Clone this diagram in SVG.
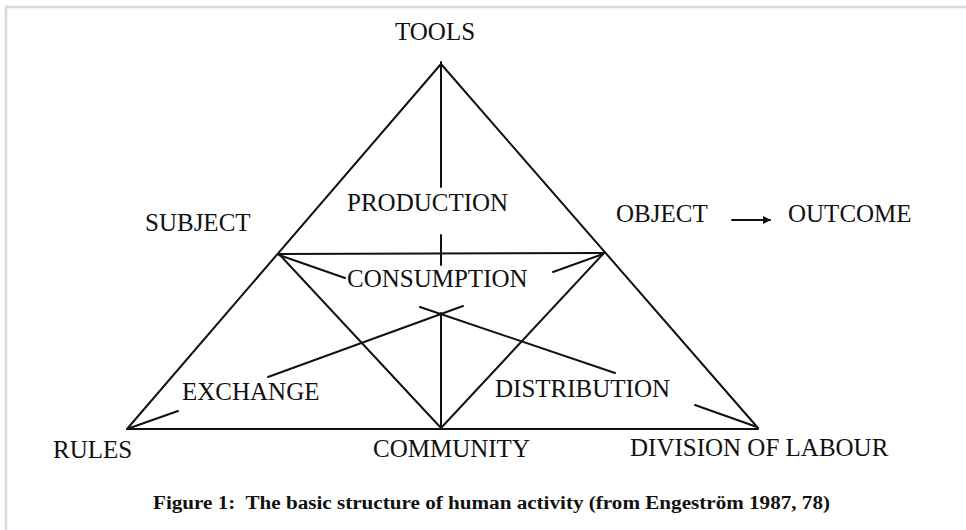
<svg xmlns="http://www.w3.org/2000/svg" width="966" height="530" viewBox="0 0 966 530">
<style>
  .lbl { font-family: "Liberation Serif", "Times New Roman", serif; font-size: 25px; fill: #111; }
  .cap { font-family: "Liberation Serif", "Times New Roman", serif; font-size: 18px; font-weight: bold; fill: #111; }
  .ln { stroke: #111; stroke-width: 2; fill: none; stroke-linecap: round; }
  .frame { stroke: #d9d9d9; stroke-width: 2.5; fill: none; }
</style>
<defs>
  <marker id="arr" markerWidth="8" markerHeight="8" refX="7" refY="4" orient="auto" markerUnits="userSpaceOnUse">
    <path d="M0,0 L8,4 L0,8 Z" fill="#111"/>
  </marker>
</defs>
<rect x="0" y="0" width="966" height="530" fill="#fff"/>
<path class="frame" d="M6,530 L6,7 L966,7"/>

<g id="connectors">
  <line class="ln" x1="441" y1="64" x2="127" y2="429"/>
  <line class="ln" x1="441" y1="64" x2="758" y2="428"/>
  <line class="ln" x1="127" y1="429" x2="758" y2="429"/>
  <line class="ln" x1="441" y1="62" x2="441" y2="187"/>
  <line class="ln" x1="441" y1="235" x2="441" y2="265"/>
  <line class="ln" x1="441" y1="313" x2="441" y2="428"/>
  <line class="ln" x1="279" y1="254" x2="604" y2="253"/>
  <line class="ln" x1="279" y1="254" x2="441" y2="428"/>
  <line class="ln" x1="604" y1="253" x2="441" y2="428"/>
  <line class="ln" x1="279" y1="255" x2="345" y2="278"/>
  <line class="ln" x1="553" y1="272" x2="603" y2="254"/>
  <line class="ln" x1="268" y1="377" x2="463" y2="306"/>
  <line class="ln" x1="420" y1="307" x2="615" y2="373"/>
  <line class="ln" x1="127" y1="429" x2="178" y2="411"/>
  <line class="ln" x1="695" y1="405" x2="757" y2="427"/>
  <line class="ln" x1="732" y1="220" x2="770" y2="220" marker-end="url(#arr)"/>
</g>

<g id="tools"><text class="lbl" x="395" y="40">TOOLS</text></g>
<g id="subject"><text class="lbl" x="145" y="231">SUBJECT</text></g>
<g id="production"><text class="lbl" x="347" y="211">PRODUCTION</text></g>
<g id="object"><text class="lbl" x="616" y="222">OBJECT</text></g>
<g id="outcome"><text class="lbl" x="788" y="222">OUTCOME</text></g>
<g id="consumption"><text class="lbl" x="347" y="287">CONSUMPTION</text></g>
<g id="exchange"><text class="lbl" x="182" y="400">EXCHANGE</text></g>
<g id="distribution"><text class="lbl" x="495" y="397">DISTRIBUTION</text></g>
<g id="rules"><text class="lbl" x="53" y="458">RULES</text></g>
<g id="community"><text class="lbl" x="373" y="457">COMMUNITY</text></g>
<g id="division"><text class="lbl" x="630" y="456">DIVISION OF LABOUR</text></g>
<g id="caption"><text class="cap" x="153" y="509" xml:space="preserve" textLength="677" lengthAdjust="spacingAndGlyphs">Figure 1:  The basic structure of human activity (from Engeström 1987, 78)</text></g>
</svg>
